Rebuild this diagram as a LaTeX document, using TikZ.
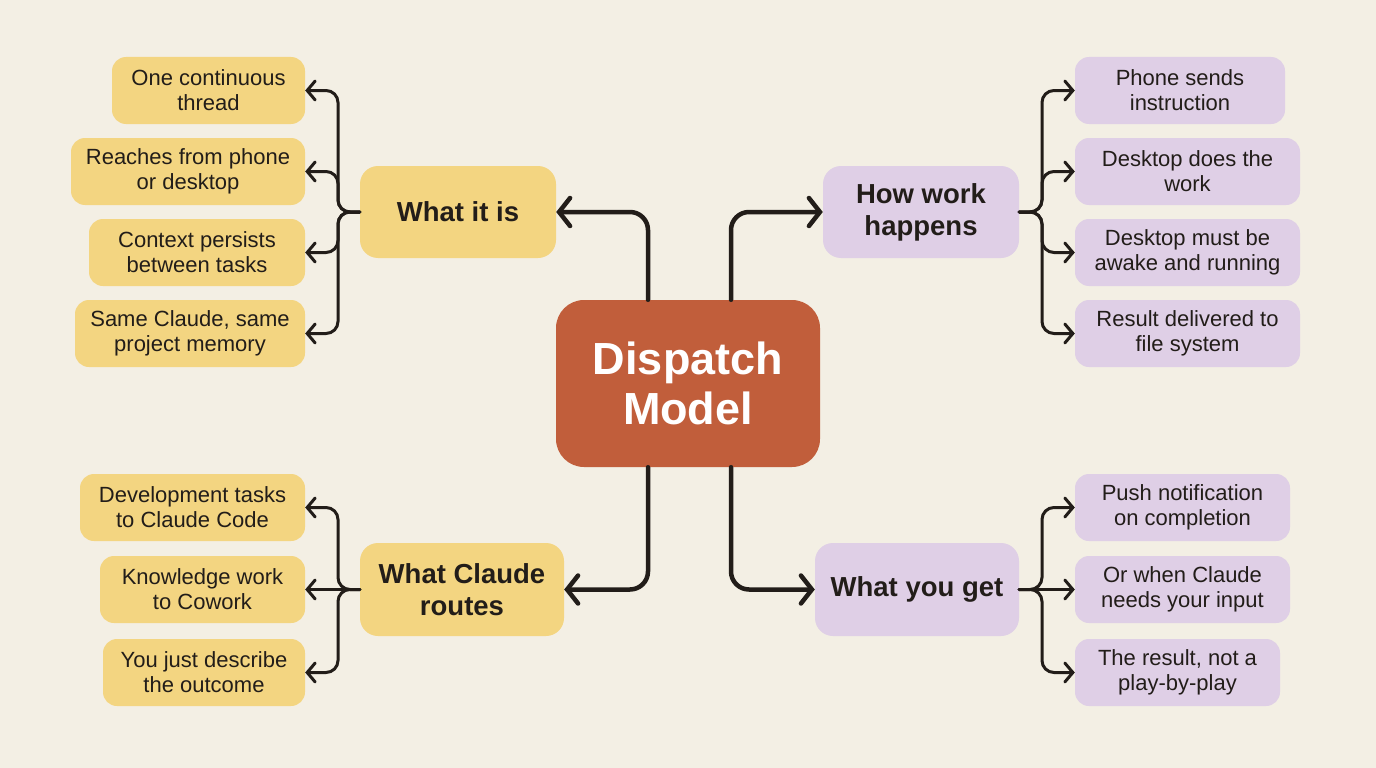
\documentclass[tikz,border=0pt]{standalone}
\usepackage{fontspec}
\setmainfont{Liberation Sans}
\usetikzlibrary{arrows.meta}
\definecolor{bg}{HTML}{F3EFE4}
\definecolor{yel}{HTML}{F3D581}
\definecolor{pur}{HTML}{DFCFE6}
\definecolor{ctr}{HTML}{C15E3B}
\definecolor{ink}{HTML}{221D19}
\begin{document}
\begin{tikzpicture}[x=1pt,y=-1pt,
  leaf/.style={rounded corners=14pt, inner sep=0pt, align=center, minimum height=67pt,
    font=\fontsize{22}{25}\selectfont, text=ink},
  mid/.style={rounded corners=18pt, inner sep=0pt, align=center, minimum height=92pt, minimum width=196pt,
    font=\bfseries\fontsize{27.5}{32}\selectfont, text=ink},
  hub/.style={rounded corners=28pt, inner sep=0pt, align=center, fill=ctr, minimum width=264pt, minimum height=167pt,
    font=\bfseries\fontsize{45}{50}\selectfont, text=white},
  mainln/.style={line width=4.5pt, draw=ink, rounded corners=18pt, line cap=round,
    -{Straight Barb[length=11pt,width=28pt,line cap=round]}},
  brln/.style={line width=3pt, draw=ink, rounded corners=12pt, line cap=round,
    -{Straight Barb[length=8pt,width=19pt,line cap=round]}}
]
\fill[bg] (0,0) rectangle (1376,768);
\useasboundingbox (0,0) rectangle (1376,768);

% hub and mid nodes
\node[hub] (c) at (688,383.5) {Dispatch\\Model};
\node[mid, fill=yel] (wi) at (458,212) {What it is};
\node[mid, fill=pur] (hw) at (921,212) {How work\\happens};
\node[mid, fill=yel, minimum width=204pt, minimum height=93pt] (wcr) at (462,589.5) {What Claude\\routes};
\node[mid, fill=pur, minimum width=204pt, minimum height=93pt] (wyg) at (917,589.5) {What you get};

% left top leaves
\node[leaf, fill=yel, minimum width=193pt] (l1) at (208.5,90.5) {One continuous\\thread};
\node[leaf, fill=yel, minimum width=234pt] (l2) at (188,171.5) {Reaches from phone\\or desktop};
\node[leaf, fill=yel, minimum width=216pt] (l3) at (197,252.5) {Context persists\\between tasks};
\node[leaf, fill=yel, minimum width=230pt] (l4) at (190,333.5) {Same Claude, same\\project memory};
% left bottom leaves
\node[leaf, fill=yel, minimum width=225pt] (l5) at (192.5,507.5) {Development tasks\\to Claude Code};
\node[leaf, fill=yel, minimum width=205pt] (l6) at (202.5,589.5) {Knowledge work\\to Cowork};
\node[leaf, fill=yel, minimum width=202pt] (l7) at (204,672.5) {You just describe\\the outcome};
% right top leaves
\node[leaf, fill=pur, minimum width=210pt] (r1) at (1180,90.5) {Phone sends\\instruction};
\node[leaf, fill=pur, minimum width=225pt] (r2) at (1187.5,171.5) {Desktop does the\\work};
\node[leaf, fill=pur, minimum width=225pt] (r3) at (1187.5,252.5) {Desktop must be\\awake and running};
\node[leaf, fill=pur, minimum width=225pt] (r4) at (1187.5,333.5) {Result delivered to\\file system};
% right bottom leaves
\node[leaf, fill=pur, minimum width=215pt] (r5) at (1182.5,507.5) {Push notification\\on completion};
\node[leaf, fill=pur, minimum width=215pt] (r6) at (1182.5,589.5) {Or when Claude\\needs your input};
\node[leaf, fill=pur, minimum width=205pt] (r7) at (1177.5,672.5) {The result, not a\\play-by-play};

% main connectors
\coordinate (mL) at (648,0);
\coordinate (mR) at (731,0);
\draw[mainln] (c.north -| mL) |- (wi.east);
\draw[mainln] (c.north -| mR) |- (hw.west);
\draw[mainln] (c.south -| mL) |- (wcr.east);
\draw[mainln] (c.south -| mR) |- (wyg.west);

% branch trunks
\coordinate (tL) at (338,0);
\coordinate (tR) at (1042,0);
\foreach \l in {l1,l2,l3,l4}
  \draw[brln] (wi.west) -- (wi.west -| tL) |- (\l.east);
\foreach \l in {l5,l7}
  \draw[brln] (wcr.west) -- (wcr.west -| tL) |- (\l.east);
\draw[brln] (wcr.west) -- (l6.east);
\foreach \r in {r1,r2,r3,r4}
  \draw[brln] (hw.east) -- (hw.east -| tR) |- (\r.west);
\foreach \r in {r5,r7}
  \draw[brln] (wyg.east) -- (wyg.east -| tR) |- (\r.west);
\draw[brln] (wyg.east) -- (r6.west);
\end{tikzpicture}
\end{document}
